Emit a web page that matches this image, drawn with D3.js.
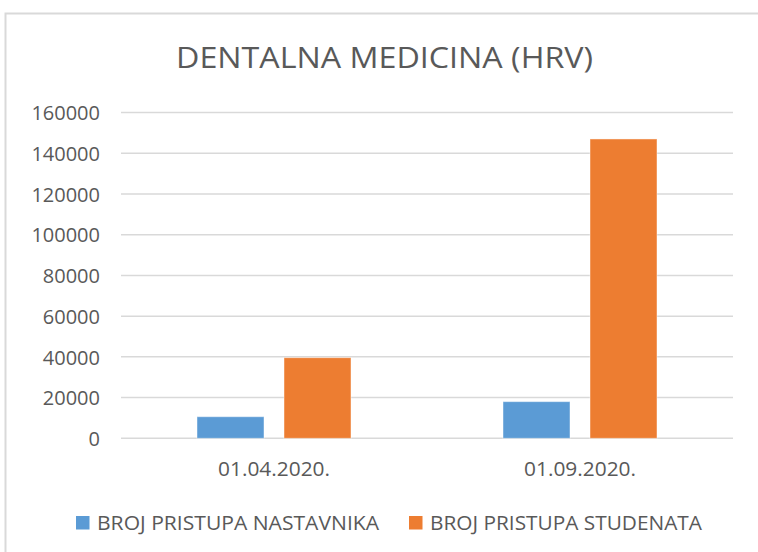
<!DOCTYPE html>
<html>
<head>
<meta charset="utf-8">
<script src="https://cdn.jsdelivr.net/npm/d3@7"></script>
<style>
  html, body { margin: 0; padding: 0; background: #fff; }
  svg { display: block; }
  text { font-family: "Open Sans", "Noto Sans", sans-serif; fill: #595959; }
</style>
</head>
<body>
<script>
const title = "DENTALNA MEDICINA (HRV)";
const categories = ["01.04.2020.", "01.09.2020."];
const seriesNames = ["BROJ PRISTUPA NASTAVNIKA", "BROJ PRISTUPA STUDENATA"];
const teachers = [10600, 18000];
const students = [39600, 147000];
const yTicks = [0, 20000, 40000, 60000, 80000, 100000, 120000, 140000, 160000];
const colors = ["#5B9BD5", "#ED7D31"];

(function () {
const W = 758, H = 552;
const svg = d3.select("body").append("svg").attr("width", W).attr("height", H);

// chart border
svg.append("rect").attr("x", 5.5).attr("y", 13.5).attr("width", 900).attr("height", 700)
  .attr("fill", "#fff").attr("stroke", "#d9d9d9").attr("stroke-width", 2);

// title
svg.append("text").attr("x", 384.5).attr("y", 68).attr("text-anchor", "middle")
  .attr("font-size", 30).attr("textLength", 417).attr("lengthAdjust", "spacingAndGlyphs")
  .text(title);

const pLeft = 121, pRight = 733, pTop = 112.5, pBottom = 438.3;
const y = d3.scaleLinear().domain([0, 160000]).range([pBottom, pTop]);
const x0 = d3.scaleBand().domain(categories).range([pLeft, pRight]).paddingInner(0).paddingOuter(0);
const bw = x0.bandwidth();
const x1 = d3.scaleBand().domain(d3.range(seriesNames.length))
  .range([(bw - 154) / 2, (bw + 154) / 2]).paddingInner(0.2299).paddingOuter(0);

// gridlines
svg.append("g").selectAll("line").data(yTicks).join("line")
  .attr("x1", pLeft).attr("x2", pRight)
  .attr("y1", d => y(d)).attr("y2", d => y(d))
  .attr("stroke", "#d9d9d9").attr("stroke-width", 1.5);

// y axis labels
const yAxis = d3.axisLeft(y).tickValues(yTicks).tickSize(0).tickPadding(0).tickFormat(d3.format("d"));
const ga = svg.append("g").attr("transform", "translate(100,0)").call(yAxis);
ga.select(".domain").remove();
ga.selectAll("text").attr("font-size", 20).attr("fill", "#595959")
  .attr("font-family", '"Open Sans", sans-serif').attr("dy", "0.36em");

// bars
const data = categories.map((c, i) => ({ cat: c, vals: [teachers[i], students[i]] }));
const groups = svg.append("g").selectAll("g").data(data).join("g")
  .attr("transform", d => `translate(${x0(d.cat)},0)`);
groups.selectAll("rect").data(d => d.vals.map((v, j) => ({ v, j }))).join("rect")
  .attr("x", d => x1(d.j)).attr("width", x1.bandwidth())
  .attr("y", d => y(d.v)).attr("height", d => y(0) - y(d.v))
  .attr("fill", d => colors[d.j])
  .attr("stroke", "rgba(255,255,255,0.45)").attr("stroke-width", 1);

// x axis labels
const xAxis = d3.axisBottom(x0).tickSize(0).tickPadding(0);
const gx = svg.append("g").attr("transform", "translate(0,476)").call(xAxis);
gx.select(".domain").remove();
gx.selectAll("text").attr("font-size", 20).attr("fill", "#595959")
  .attr("font-family", '"Open Sans", sans-serif').attr("dy", 0)
  .attr("textLength", 112).attr("lengthAdjust", "spacingAndGlyphs");

// legend
const legX = [76, 409], legTextLen = [282, 272];
const leg = svg.append("g").selectAll("g").data(seriesNames).join("g")
  .attr("transform", (d, i) => `translate(${legX[i]},516)`);
leg.append("rect").attr("width", 13.5).attr("height", 13.5).attr("fill", (d, i) => colors[i]);
leg.append("text").attr("x", 21).attr("y", 13.5).attr("font-size", 19.5)
  .attr("textLength", (d, i) => legTextLen[i]).attr("lengthAdjust", "spacingAndGlyphs")
  .text(d => d);
})();
</script>
</body>
</html>
